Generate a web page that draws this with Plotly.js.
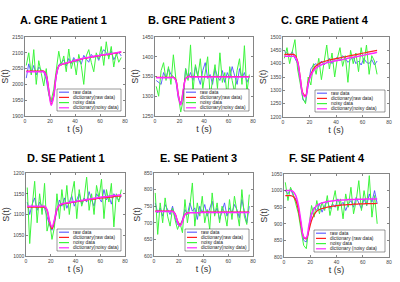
<!DOCTYPE html>
<html><head><meta charset="utf-8">
<script src="https://cdn.plot.ly/plotly-3.0.1.min.js"></script>
<style>html,body{margin:0;padding:0;background:#fff}#chart{width:400px;height:282px}</style>
</head><body><div id="chart"></div>
<script>
// ---------- data ----------
const seriesNames  = ['raw data','dictionary(raw data)','noisy data','dictionary(noisy data)'];
const seriesNamesF = ['raw data','dictionary (raw data)','noisy data','dictionary (noisy data)'];
const panelTitles = ['A. GRE Patient 1','B. GRE Patient 3','C. GRE Patient 4','D. SE Patient 1','E. SE Patient 3','F. SE Patient 4'];
const xTicks = [0,20,40,60,80];

const tLong  = [1,3,5,7,9,11,13,15,17,19,21,23,25,27,29,31,33,35,37,39,41,43,45,47,49,51,53,55,57,59,61,63,65,67,69,71,73,75,77];
const tShort = [1,3,5,7,9,11,13,15,17,19,21,23,25,27,29,31,33,35,37,39,41,43,45,47,49,51,53,55,57,59,61,63,65,67,69,71];

// A. GRE Patient 1
const yTicksA = [1900,1950,2000,2050,2100,2150];
const rawA = [2020,2065,2035,2060,2030,2055,2045,2040,2015,1970,1945,1962,2025,2062,2068,2078,2058,2082,2066,2085,2070,2078,2064,2092,2080,2070,2095,2085,2092,2076,2097,2110,2100,2088,2106,2078,2092,2102,2090];
const dictRawA = [2042,2042,2042,2042,2042,2042,2042,2042,2030,1985,1938,1965,2030,2058,2063,2065,2067,2069,2071,2074,2076,2078,2080,2082,2083,2085,2086,2088,2089,2090,2092,2093,2094,2095,2096,2098,2099,2101,2102];
const noisyA = [2060,2100,2030,2110,2000,2075,2035,1995,2050,1965,1950,1985,2045,2105,2060,2090,2040,2112,2050,2080,2030,2095,2060,2000,2090,2110,2070,2040,2100,2080,2120,2060,2135,2080,2120,2055,2100,2070,2085];
const dictNoisyA = [2040,2040,2040,2040,2040,2040,2040,2040,2027,1980,1934,1962,2028,2057,2063,2066,2068,2070,2072,2075,2077,2079,2081,2083,2084,2086,2087,2089,2090,2091,2093,2094,2095,2096,2097,2099,2100,2102,2103];

// B. GRE Patient 3
const yTicksB = [1250,1300,1350,1400,1450];
const rawB = [1340,1335,1330,1360,1345,1370,1355,1350,1340,1295,1283,1300,1370,1345,1360,1340,1375,1350,1330,1365,1385,1345,1355,1330,1370,1350,1340,1365,1335,1360,1345,1375,1350,1330,1370,1345,1360,1335,1350];
const dictRawB = [1348,1348,1348,1348,1348,1348,1348,1348,1342,1305,1280,1315,1345,1350,1350,1350,1350,1350,1350,1350,1350,1350,1350,1350,1350,1350,1350,1350,1350,1350,1350,1350,1350,1350,1350,1350,1350,1350,1350];
const noisyB = [1325,1300,1365,1385,1340,1375,1330,1405,1345,1300,1260,1290,1370,1340,1430,1310,1380,1350,1395,1320,1365,1400,1300,1345,1380,1320,1410,1335,1360,1295,1375,1340,1310,1365,1395,1330,1428,1310,1355];
const dictNoisyB = [1347,1347,1347,1347,1347,1347,1347,1347,1340,1302,1278,1312,1344,1349,1349,1349,1349,1349,1349,1349,1349,1349,1349,1349,1349,1349,1349,1349,1349,1349,1349,1349,1349,1349,1349,1349,1349,1349,1349];

// C. GRE Patient 4
const yTicksC = [1200,1250,1300,1350,1400,1450,1500];
const rawC = [1445,1440,1430,1445,1420,1400,1340,1265,1255,1320,1380,1395,1400,1390,1410,1395,1405,1420,1400,1415,1425,1410,1430,1420,1405,1415,1425,1400,1410,1395,1420,1405,1400,1415,1395,1410];
const dictRawC = [1435,1435,1435,1435,1432,1410,1350,1290,1280,1330,1360,1380,1392,1400,1405,1408,1411,1414,1416,1418,1420,1422,1424,1426,1428,1430,1432,1434,1436,1438,1440,1442,1444,1446,1448,1450];
const noisyC = [1420,1460,1400,1445,1490,1380,1330,1270,1250,1350,1320,1400,1360,1420,1340,1400,1470,1380,1440,1350,1420,1460,1390,1430,1330,1450,1400,1440,1370,1460,1400,1470,1360,1430,1410,1360];
const dictNoisyC = [1428,1428,1428,1428,1426,1405,1345,1285,1276,1325,1355,1373,1384,1391,1396,1400,1403,1406,1408,1410,1412,1414,1416,1418,1420,1422,1424,1426,1428,1430,1432,1434,1436,1438,1440,1443];

// D. SE Patient 1
const yTicksD = [1000,1050,1100,1150,1200];
const rawD = [1130,1100,1125,1140,1110,1130,1120,1115,1095,1075,1062,1080,1110,1135,1120,1140,1115,1130,1145,1120,1135,1150,1125,1140,1130,1155,1135,1120,1150,1140,1130,1160,1135,1145,1125,1150,1140,1135,1145];
const dictRawD = [1118,1118,1118,1118,1118,1118,1118,1118,1110,1082,1066,1085,1112,1122,1125,1126,1127,1128,1129,1130,1131,1132,1133,1134,1135,1136,1137,1137,1138,1139,1140,1140,1141,1142,1142,1143,1144,1144,1145];
const noisyD = [1165,1030,1120,1180,1080,1150,1100,1175,1060,1085,1040,1070,1150,1090,1160,1110,1170,1100,1150,1180,1090,1160,1120,1140,1190,1110,1150,1100,1170,1140,1185,1090,1160,1130,1175,1070,1150,1130,1160];
const dictNoisyD = [1120,1120,1120,1120,1120,1120,1120,1120,1112,1085,1070,1088,1114,1123,1126,1127,1128,1129,1130,1131,1132,1133,1134,1135,1136,1137,1138,1139,1140,1141,1142,1143,1143,1144,1145,1146,1146,1147,1147];

// E. SE Patient 3
const yTicksE = [600,650,700,750,800,850];
const rawE = [760,730,745,720,755,740,725,750,715,695,690,710,740,725,760,735,745,710,750,730,755,720,740,765,725,745,710,735,760,720,745,730,755,740,715,770,730,700,750];
const dictRawE = [735,735,735,735,735,735,735,735,728,706,692,706,725,730,731,731,731,731,731,732,732,732,732,732,732,732,732,732,732,732,732,732,732,732,732,732,732,732,732];
const noisyE = [790,665,760,700,775,720,690,745,710,680,700,670,770,700,750,820,690,760,720,780,700,740,680,790,720,760,700,750,730,690,770,710,780,740,690,800,720,695,785];
const dictNoisyE = [734,734,734,734,734,734,734,734,727,704,690,704,724,729,730,730,730,730,731,731,731,731,731,731,731,731,731,731,731,731,731,731,731,731,731,731,731,731,731];

// F. SE Patient 4
const yTicksF = [800,850,900,950,1000,1050];
const rawF = [1000,990,1005,985,975,950,900,850,845,890,925,950,940,960,935,955,970,945,960,950,975,955,965,940,960,970,950,980,960,945,975,955,990,965,1000,960];
const dictRawF = [985,985,985,982,970,940,895,860,855,880,910,928,938,943,946,948,950,952,953,954,955,956,957,957,958,958,959,959,960,960,960,961,961,961,961,962];
const noisyF = [1025,970,1010,990,960,930,880,835,825,900,955,920,970,930,965,940,985,925,960,1000,940,975,915,990,950,1010,930,970,1030,940,1000,955,1045,920,985,900];
const dictNoisyF = [1000,1000,1000,997,985,955,905,860,858,895,930,945,955,960,963,965,967,968,969,970,971,971,972,972,973,973,973,974,974,974,974,975,975,975,975,975];

// ---------- layout geometry (pixels) ----------
const W = 400, H = 282;
const panels = [
  {t:tLong,  raw:rawA, dr:dictRawA, noisy:noisyA, dn:dictNoisyA, yt:yTicksA, names:seriesNames,  box:[25,125,37,116],  title:[63,20],  lw:64},
  {t:tLong,  raw:rawB, dr:dictRawB, noisy:noisyB, dn:dictNoisyB, yt:yTicksB, names:seriesNames,  box:[155,253,37,116], title:[191,20], lw:65},
  {t:tShort, raw:rawC, dr:dictRawC, noisy:noisyC, dn:dictNoisyC, yt:yTicksC, names:seriesNames,  box:[283,389,37,117], title:[325,20], lw:70},
  {t:tLong,  raw:rawD, dr:dictRawD, noisy:noisyD, dn:dictNoisyD, yt:yTicksD, names:seriesNames,  box:[26,125,173,256], title:[66,158], lw:64},
  {t:tLong,  raw:rawE, dr:dictRawE, noisy:noisyE, dn:dictNoisyE, yt:yTicksE, names:seriesNames,  box:[154,253,173,256],title:[198,158], lw:64},
  {t:tShort, raw:rawF, dr:dictRawF, noisy:noisyF, dn:dictNoisyF, yt:yTicksF, names:seriesNamesF, box:[284,389,174,257],title:[327,158], lw:71}
];
const colors = {raw:'rgba(70,70,255,0.85)', dr:'rgb(255,30,30)', noisy:'rgb(60,245,60)', dn:'rgb(255,40,255)'};
const widths = {raw:1, dr:1.2, noisy:1, dn:1.5};
const px = x => x / W, py = y => 1 - y / H;
const FONT = 'Liberation Sans, Arial, sans-serif';

const traces = [], shapes = [], annotations = [];
const layout = {
  width: W, height: H, margin:{l:0,r:0,t:0,b:0},
  paper_bgcolor:'#fff', plot_bgcolor:'#fff', showlegend:false,
  font:{family:FONT, color:'#333'}
};

panels.forEach((p, i) => {
  const sfx = i === 0 ? '' : String(i + 1);
  const xa = 'x' + sfx, ya = 'y' + sfx;
  [['raw','raw',0],['noisy','noisy',2],['dr','dr',1],['dn','dn',3]].forEach(([key,ck,ni]) => {
    traces.push({x:p.t, y:p[key], xaxis:xa, yaxis:ya, type:'scatter', mode:'lines',
      name:p.names[ni], line:{color:colors[ck], width:widths[ck], shape:(key==='dr'||key==='dn')?'spline':'linear'}, hoverinfo:'skip'});
  });
  const [l,r,t,b] = p.box;
  const axCommon = {showline:true, mirror:'ticks', linecolor:'#333', linewidth:0.6, ticks:'inside', ticklen:2, tickwidth:0.6, tickcolor:'#333',
    showgrid:false, zeroline:false, tickfont:{size:5, color:'#444', family:FONT}, fixedrange:true};
  layout['xaxis' + sfx] = Object.assign({}, axCommon, {domain:[px(l), px(r)], range:[0,80], tickvals:xTicks, anchor:ya,
    title:{text:'t (s)', font:{size:9, color:'#333', family:FONT}, standoff:1}});
  layout['yaxis' + sfx] = Object.assign({}, axCommon, {domain:[py(b), py(t)], range:[p.yt[0], p.yt[p.yt.length-1]], tickvals:p.yt, anchor:xa,
    title:{text:'S(t)', font:{size:9, color:'#333', family:FONT}, standoff:1}});
  // panel title
  annotations.push({xref:'paper', yref:'paper', x:px(p.title[0]), y:py(p.title[1]), text:'<b>' + panelTitles[i] + '</b>',
    showarrow:false, xanchor:'center', yanchor:'middle', font:{size:11, color:'#000', family:FONT}});
  // custom compact legend
  const lr = r - 4, lb = b - 5, ll = lr - p.lw, lt = lb - 22;
  shapes.push({type:'rect', xref:'paper', yref:'paper', x0:px(ll), x1:px(lr), y0:py(lb), y1:py(lt),
    fillcolor:'#fff', line:{color:'#333', width:0.5}, layer:'above'});
  const order = [['raw',0],['dr',1],['noisy',2],['dn',3]];
  order.forEach(([ck,ni], k) => {
    const yy = lt + 3.2 + k * 5.2;
    shapes.push({type:'line', xref:'paper', yref:'paper', x0:px(ll + 2), x1:px(ll + 12), y0:py(yy), y1:py(yy),
      line:{color:colors[ck], width:1.2}, layer:'above'});
    annotations.push({xref:'paper', yref:'paper', x:px(ll + 14), y:py(yy), text:p.names[ni], showarrow:false,
      xanchor:'left', yanchor:'middle', font:{size:4.8, color:'#222', family:FONT}});
  });
});
layout.shapes = shapes;
layout.annotations = annotations;
Plotly.newPlot('chart', traces, layout, {staticPlot:true, displayModeBar:false});
</script>
</body></html>
